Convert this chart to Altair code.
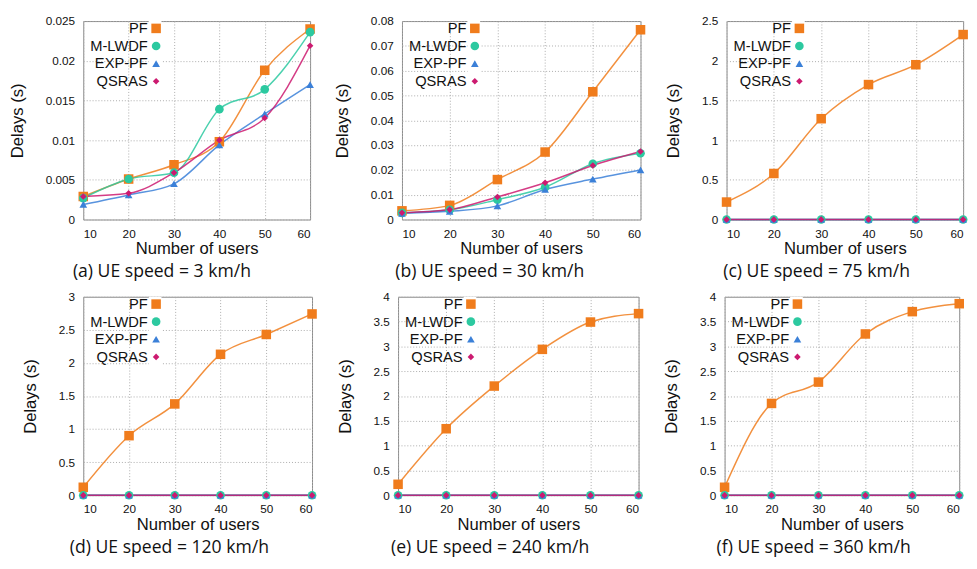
import altair as alt
import pandas as pd

users = [10, 20, 30, 40, 50, 60]
series = ["PF", "M-LWDF", "EXP-PF", "QSRAS"]
colors = ["#f07c1c", "#2cc9a0", "#3b80d8", "#cc1a70"]
shapes = ["square", "circle", "triangle-up", "diamond"]
sizes = [95, 45, 95, 90]

captions = [
    "(a) UE speed = 3 km/h",
    "(b) UE speed = 30 km/h",
    "(c) UE speed = 75 km/h",
    "(d) UE speed = 120 km/h",
    "(e) UE speed = 240 km/h",
    "(f) UE speed = 360 km/h",
]

# (a) 3 km/h
a_pf = [0.0029, 0.0051, 0.0069, 0.0098, 0.0188, 0.0240]
a_mlwdf = [0.0027, 0.0051, 0.0059, 0.0139, 0.0164, 0.0236]
a_exp = [0.0019, 0.0031, 0.0045, 0.0094, 0.0133, 0.0170]
a_qsras = [0.0029, 0.0033, 0.0059, 0.0100, 0.0128, 0.0219]
# (b) 30 km/h
b_pf = [0.0035, 0.0057, 0.0161, 0.0272, 0.0515, 0.0765]
b_mlwdf = [0.0027, 0.0039, 0.0080, 0.0130, 0.0225, 0.0267]
b_exp = [0.0025, 0.0033, 0.0055, 0.0121, 0.0163, 0.0200]
b_qsras = [0.0027, 0.0040, 0.0091, 0.0148, 0.0218, 0.0274]
# (c) 75 km/h
c_pf = [0.22, 0.58, 1.27, 1.70, 1.95, 2.33]
# (d) 120 km/h
d_pf = [0.12, 0.90, 1.38, 2.13, 2.43, 2.74]
# (e) 240 km/h
e_pf = [0.22, 1.34, 2.20, 2.94, 3.49, 3.66]
# (f) 360 km/h
f_pf = [0.16, 1.85, 2.28, 3.25, 3.70, 3.86]
zeros = [0.0, 0.0, 0.0, 0.0, 0.0, 0.0]

y_ticks = [
    [0, 0.005, 0.01, 0.015, 0.02, 0.025],
    [0, 0.01, 0.02, 0.03, 0.04, 0.05, 0.06, 0.07, 0.08],
    [0, 0.5, 1, 1.5, 2, 2.5],
    [0, 0.5, 1, 1.5, 2, 2.5, 3],
    [0, 0.5, 1, 1.5, 2, 2.5, 3, 3.5, 4],
    [0, 0.5, 1, 1.5, 2, 2.5, 3, 3.5, 4],
]

panel_values = [
    [a_pf, a_mlwdf, a_exp, a_qsras],
    [b_pf, b_mlwdf, b_exp, b_qsras],
    [c_pf, zeros, zeros, zeros],
    [d_pf, zeros, zeros, zeros],
    [e_pf, zeros, zeros, zeros],
    [f_pf, zeros, zeros, zeros],
]

FONT = "Liberation Sans"


def panel(vals, ticks, caption, width, height):
    rows = []
    for i, (s, v) in enumerate(zip(series, vals)):
        for u, d in zip(users, v):
            rows.append({"users": u, "series": s, "delay": d, "ord": i})
    df = pd.DataFrame(rows)
    x = alt.X(
        "users:Q",
        scale=alt.Scale(domain=[10, 60], nice=False, zero=False),
        axis=alt.Axis(values=users, title="Number of users"),
    )
    y = alt.Y(
        "delay:Q",
        scale=alt.Scale(domain=[0, ticks[-1]], nice=False),
        axis=alt.Axis(values=ticks, title="Delays (s)", format="~g"),
    )
    base = alt.Chart(df)
    line_layers = [
        base.transform_filter(alt.datum.series == s)
        .mark_line(interpolate="monotone", strokeWidth=1.5, opacity=0.85, color=c)
        .encode(x=x, y=y)
        for s, c in zip(series, colors)
    ]
    legend = alt.Legend(
        orient="none", legendX=67, legendY=0, title=None,
        labelAlign="right", labelOffset={"expr": "-16"}, symbolOffset=0,
        labelFont=FONT, labelFontSize=15, labelColor="#111",
        symbolSize=90, symbolStrokeWidth=0, symbolOpacity=1,
        rowPadding=2, padding=0, offset=0, fillColor="white",
    )
    pts = base.mark_point(filled=True, opacity=1).encode(
        x=x, y=y,
        color=alt.Color("series:N", scale=alt.Scale(domain=series, range=colors), legend=legend),
        shape=alt.Shape("series:N", scale=alt.Scale(domain=series, range=shapes), legend=legend),
        size=alt.Size("series:N", scale=alt.Scale(domain=series, range=sizes), legend=None),
        order=alt.Order("ord:Q"),
    )
    return alt.layer(*line_layers, pts).properties(
        width=width, height=height,
        title=alt.TitleParams(caption, orient="bottom", font="Open Sans", fontSize=18,
                              fontWeight="normal", color="#111", anchor="middle", offset=7),
    )


widths = [232, 244, 242, 234, 246, 240]
H = 203
charts = [panel(panel_values[i], y_ticks[i], captions[i], widths[i], H) for i in range(6)]

res = dict(color="independent", shape="independent", size="independent")
row1 = alt.hconcat(*charts[:3], spacing=18).resolve_scale(**res)
row2 = alt.hconcat(*charts[3:], spacing=18).resolve_scale(**res)
chart = alt.vconcat(row1, row2, spacing=8).resolve_scale(**res).properties(padding=0).configure_view(
    stroke="#888", strokeWidth=1
).configure_axis(
    labelFont=FONT, labelFontSize=12, labelColor="#111",
    titleFont=FONT, titleFontSize=17, titleFontWeight="normal", titleColor="#111",
    grid=True, gridColor="#aaa", gridDash=[1, 2], gridWidth=1,
    domain=False, ticks=False, labelPadding=9,
).configure_axisY(titlePadding=19).configure_axisX(titlePadding=2).configure_title(
    frame="bounds"
)

chart.save("out.html", embed_options={"renderer": "svg", "actions": False})
